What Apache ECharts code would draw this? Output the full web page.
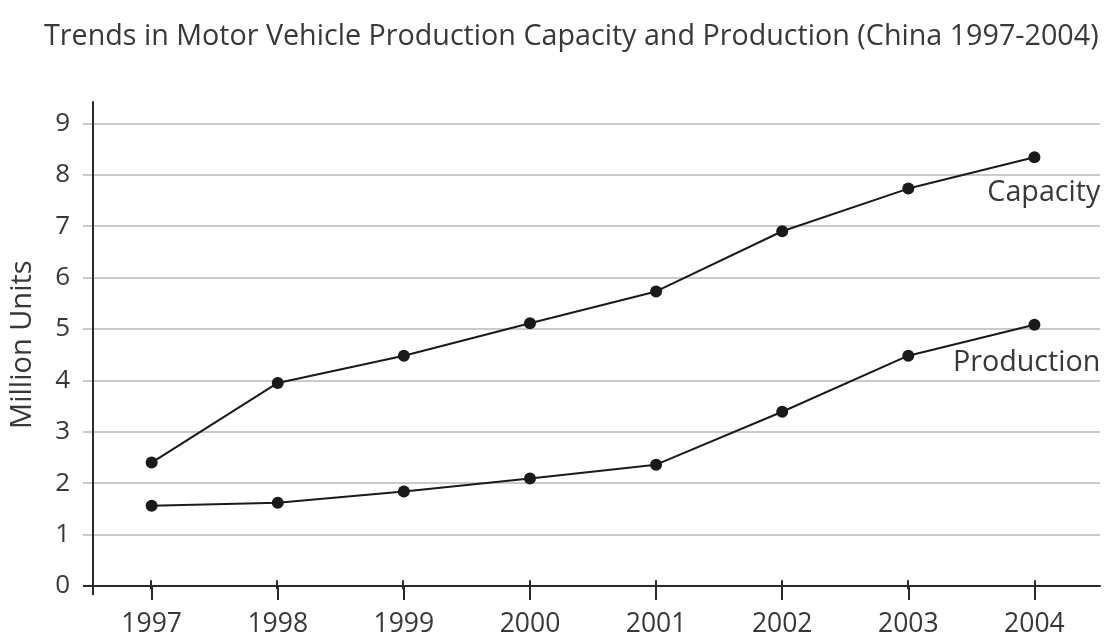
<!DOCTYPE html>
<html>
<head>
<meta charset="utf-8">
<title>Motor Vehicle Production Capacity and Production</title>
<script src="https://cdn.jsdelivr.net/npm/echarts@6/dist/echarts.min.js"></script>
<style>
  html, body { margin: 0; padding: 0; background: #ffffff; }
  #chart { width: 1104px; height: 638px; }
</style>
</head>
<body>
<div id="chart"></div>
<script>
// Years on the horizontal axis
const years = [1997, 1998, 1999, 2000, 2001, 2002, 2003, 2004];
// Million units per year
const capacity = [2.40, 3.95, 4.48, 5.11, 5.73, 6.90, 7.73, 8.34];
const production = [1.56, 1.62, 1.84, 2.09, 2.36, 3.39, 4.48, 5.08];
// Value-axis ticks
const yTicks = [0, 1, 2, 3, 4, 5, 6, 7, 8, 9];

const FONT = 'Open Sans';
const TEXT = '#383838';
const INK = '#1a1a1a';
const AXIS = '#2a2a2a';
const GRIDLINE = '#cacaca';
const X_MIN = 1996.535;
const X_MAX = 2004.52;

const chart = echarts.init(document.getElementById('chart'), null, { renderer: 'canvas' });

// Line points; the last one carries the series name as its label.
function seriesData(values, name, dy) {
  return years.map((yr, i) => {
    const item = { value: [yr, values[i]] };
    if (i === years.length - 1) {
      item.label = {
        show: true,
        formatter: name,
        position: 'inside',
        align: 'right',
        verticalAlign: 'middle',
        offset: [66, dy],
        fontFamily: FONT,
        fontSize: 28.7,
        color: TEXT
      };
    }
    return item;
  });
}

const gridBox = { left: 92, right: 4, top: 123.3, bottom: 48.7 };

chart.setOption({
  animation: false,
  backgroundColor: '#ffffff',
  title: {
    text: 'Trends in Motor Vehicle Production Capacity and Production (China 1997-2004)',
    left: 39,
    top: 17,
    textStyle: { fontFamily: FONT, fontSize: 28.7, fontWeight: 'normal', color: TEXT }
  },
  grid: [
    Object.assign({}, gridBox),
    Object.assign({}, gridBox)
  ],
  xAxis: [
    {
      type: 'value', gridIndex: 0, min: X_MIN, max: X_MAX,
      axisLine: { show: true, lineStyle: { color: AXIS, width: 2 } },
      axisTick: { show: true, length: 14, customValues: years, lineStyle: { color: AXIS, width: 2 } },
      axisLabel: {
        customValues: years, margin: 25, formatter: v => String(Math.round(v)),
        fontFamily: FONT, fontSize: 26.5, color: TEXT
      },
      splitLine: { show: false }
    },
    {
      // upper half of the year ticks, which cross the axis line
      type: 'value', gridIndex: 1, min: X_MIN, max: X_MAX,
      axisLine: { show: false },
      axisTick: { show: true, inside: true, length: 9, customValues: years, lineStyle: { color: AXIS, width: 2 } },
      axisLabel: { show: false },
      splitLine: { show: false }
    }
  ],
  yAxis: [
    {
      type: 'value', gridIndex: 0, min: 0, max: 9, interval: 1,
      name: 'Million Units',
      nameLocation: 'middle',
      nameGap: 56,
      nameTextStyle: { fontFamily: FONT, fontSize: 29, color: TEXT, padding: [0, 0, 0, 20] },
      axisLine: { show: true, lineStyle: { color: AXIS, width: 2 } },
      axisTick: { show: true, length: 10, lineStyle: { color: GRIDLINE, width: 2 } },
      axisLabel: {
        margin: 23, fontFamily: FONT, fontSize: 26, color: TEXT,
        formatter: v => (yTicks.indexOf(v) >= 0 ? String(v) : '')
      },
      splitLine: { show: true, lineStyle: { color: GRIDLINE, width: 2 } }
    },
    {
      type: 'value', gridIndex: 1, min: 0, max: 9, show: false
    }
  ],
  series: [
    {
      name: 'Capacity', type: 'line', xAxisIndex: 0, yAxisIndex: 0,
      data: seriesData(capacity, 'Capacity', 36),
      symbol: 'circle', symbolSize: 12,
      itemStyle: { color: INK },
      lineStyle: { color: INK, width: 2 },
      z: 5
    },
    {
      name: 'Production', type: 'line', xAxisIndex: 0, yAxisIndex: 0,
      data: seriesData(production, 'Production', 38),
      symbol: 'circle', symbolSize: 12,
      itemStyle: { color: INK },
      lineStyle: { color: INK, width: 2 },
      z: 5
    }
  ]
});

// Axis lines run a little past the plot corner, as on printed charts.
const origin = chart.convertToPixel({ gridIndex: 0 }, [X_MIN, 0]);
const top9 = chart.convertToPixel({ gridIndex: 0 }, [X_MIN, 9]);
chart.setOption({
  graphic: [
    {
      type: 'line', z: 10,
      shape: { x1: origin[0], y1: top9[1] - 22, x2: origin[0], y2: origin[1] + 9 },
      style: { stroke: AXIS, lineWidth: 2 }
    },
    {
      type: 'line', z: 10,
      shape: { x1: origin[0] - 10, y1: origin[1], x2: origin[0], y2: origin[1] },
      style: { stroke: AXIS, lineWidth: 2 }
    }
  ]
});
</script>
</body>
</html>
